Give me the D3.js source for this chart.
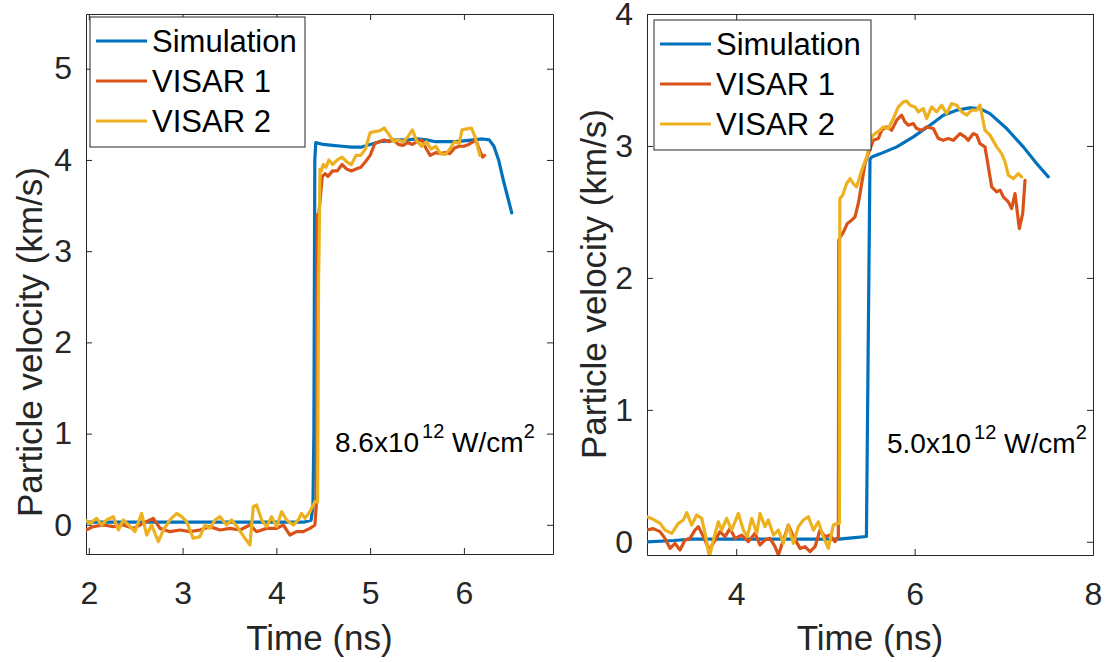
<!DOCTYPE html>
<html>
<head>
<meta charset="utf-8">
<script src="https://cdn.jsdelivr.net/npm/d3@7"></script>
<style>
  html, body { margin: 0; padding: 0; background: #fff; }
  svg { display: block; font-family: "Liberation Sans", Arial, Helvetica, sans-serif; }
</style>
</head>
<body>
<svg id="chart" width="1110" height="662"></svg>
<script>
// ---------------- DATA ----------------
const seriesNames = ["Simulation", "VISAR 1", "VISAR 2"];
const seriesColors = ["#0072BD", "#D95319", "#EDB120"];

// Left panel (8.6x10^12 W/cm^2)
const leftSimulation = [
  [1.97,0.03],[3.0,0.03],[4.0,0.03],[4.3,0.03],[4.37,0.05],[4.39,0.2],[4.40,1.0],[4.41,4.0],[4.42,4.19],
  [4.5,4.17],[4.6,4.16],[4.7,4.15],[4.8,4.14],[4.9,4.14],[5.0,4.17],[5.1,4.2],[5.2,4.21],[5.3,4.22],
  [5.4,4.22],[5.5,4.23],[5.6,4.22],[5.7,4.2],[5.8,4.2],[5.9,4.2],[6.0,4.21],[6.1,4.22],[6.2,4.23],
  [6.27,4.22],[6.32,4.15],[6.37,4.0],[6.42,3.78],[6.47,3.58],[6.51,3.42]
];
const leftVisar1 = [
  [1.97,-0.057],[2.048,-0.02],[2.155,-0.002],[2.261,-0.02],[2.368,-0.002],[2.475,-0.039],[2.581,0.016],
  [2.652,0.053],[2.688,0.071],[2.759,-0.039],[2.866,-0.075],[2.972,-0.057],[3.079,-0.075],[3.185,-0.057],
  [3.292,-0.02],[3.399,-0.057],[3.505,-0.039],[3.612,-0.057],[3.718,-0.002],[3.789,-0.075],[3.896,-0.039],
  [4.003,-0.039],[4.074,-0.002],[4.145,-0.112],[4.216,-0.075],[4.287,-0.075],[4.358,-0.039],[4.411,-0.002],
  [4.425,0.2],[4.435,3.4],[4.45,3.38],[4.47,3.6],[4.49,3.82],[4.52,3.85],[4.55,3.82],[4.6,3.88],[4.65,3.88],
  [4.7,3.95],[4.75,3.9],[4.8,3.88],[4.85,3.9],[4.9,3.92],[4.95,3.98],[5.0,4.05],[5.05,4.18],[5.1,4.2],
  [5.15,4.22],[5.2,4.2],[5.25,4.22],[5.3,4.17],[5.35,4.16],[5.4,4.19],[5.45,4.17],[5.5,4.2],[5.55,4.22],
  [5.6,4.12],[5.64,4.05],[5.7,4.08],[5.75,4.07],[5.8,4.08],[5.85,4.07],[5.9,4.13],[5.95,4.15],[6.0,4.15],
  [6.05,4.17],[6.1,4.2],[6.13,4.21],[6.17,4.1],[6.2,4.03],[6.22,4.05]
];
const leftVisar2 = [
  [1.97,0.045],[2.013,0.016],[2.084,0.071],[2.137,-0.002],[2.19,0.053],[2.261,0.089],[2.315,-0.057],
  [2.368,0.053],[2.439,-0.02],[2.492,-0.075],[2.563,0.126],[2.617,-0.112],[2.67,-0.002],[2.741,-0.185],
  [2.794,-0.057],[2.866,0.053],[2.937,0.126],[2.99,0.089],[3.043,0.034],[3.114,-0.148],[3.185,-0.13],
  [3.239,-0.002],[3.292,-0.039],[3.345,0.053],[3.399,0.089],[3.47,-0.002],[3.523,0.053],[3.594,-0.039],
  [3.665,-0.148],[3.718,-0.221],[3.754,0.199],[3.789,0.217],[3.843,0.053],[3.896,-0.02],[3.949,0.089],
  [4.003,-0.02],[4.056,0.144],[4.109,0.053],[4.18,-0.002],[4.234,0.053],[4.269,0.126],[4.305,0.071],
  [4.358,0.144],[4.411,0.254],[4.44,0.25],[4.45,2.7],[4.455,3.0],[4.465,3.9],[4.48,3.88],[4.5,3.95],
  [4.53,3.92],[4.56,4.0],[4.6,3.95],[4.65,4.0],[4.7,4.03],[4.75,3.98],[4.8,3.95],[4.85,4.05],[4.9,4.05],
  [4.95,4.12],[5.0,4.3],[5.05,4.31],[5.1,4.32],[5.15,4.35],[5.2,4.28],[5.25,4.2],[5.3,4.22],[5.35,4.2],
  [5.4,4.25],[5.45,4.33],[5.5,4.2],[5.55,4.15],[5.6,4.2],[5.65,4.12],[5.7,4.15],[5.75,4.07],[5.8,4.06],
  [5.85,4.12],[5.9,4.2],[5.95,4.18],[5.98,4.33],[6.03,4.34],[6.08,4.35],[6.12,4.25],[6.17,4.05]
];

// Right panel (5.0x10^12 W/cm^2)
const rightSimulation = [
  [3.0,0.0],[3.3,0.01],[3.5,0.02],[4.0,0.02],[4.5,0.02],[5.0,0.02],[5.15,0.02],[5.3,0.03],[5.46,0.04],
  [5.48,1.5],[5.5,2.9],[5.52,2.917],[5.612,2.94],[5.8,2.993],[5.986,3.069],[6.173,3.157],[6.322,3.233],
  [6.472,3.271],[6.621,3.288],[6.733,3.283],[6.845,3.245],[7.032,3.132],[7.219,2.993],[7.368,2.867],[7.499,2.766]
];
const rightVisar1 = [
  [3.0,0.09],[3.07,0.1],[3.146,0.077],[3.202,0.026],[3.258,-0.05],[3.314,-0.012],[3.37,-0.062],[3.426,0.013],
  [3.482,0.026],[3.538,0.089],[3.576,0.115],[3.632,0.039],[3.699,-0.062],[3.763,0.013],[3.819,0.077],
  [3.875,0.039],[3.931,0.102],[3.987,0.026],[4.062,0.051],[4.136,0.001],[4.211,0.064],[4.267,-0.024],
  [4.323,0.013],[4.379,0.026],[4.435,-0.037],[4.473,-0.1],[4.529,0.013],[4.585,0.127],[4.641,0.039],
  [4.716,-0.05],[4.771,-0.037],[4.828,-0.075],[4.884,-0.037],[4.94,0.089],[4.996,0.039],[5.052,0.051],
  [5.108,0.001],[5.145,0.039],[5.15,2.286],[5.168,2.31],[5.205,2.35],[5.243,2.41],[5.294,2.437],
  [5.332,2.463],[5.369,2.564],[5.407,2.715],[5.444,2.867],[5.481,2.942],[5.537,3.043],[5.593,3.056],
  [5.631,3.119],[5.687,3.144],[5.743,3.119],[5.799,3.195],[5.855,3.233],[5.892,3.182],[5.93,3.157],
  [5.986,3.17],[6.023,3.132],[6.079,3.119],[6.135,3.144],[6.21,3.132],[6.266,3.056],[6.322,3.043],
  [6.378,3.056],[6.434,3.043],[6.509,3.094],[6.565,3.069],[6.602,3.043],[6.658,3.094],[6.696,3.082],
  [6.733,3.018],[6.789,2.993],[6.827,2.841],[6.864,2.69],[6.92,2.652],[6.958,2.665],[6.995,2.614],
  [7.051,2.576],[7.088,2.526],[7.126,2.639],[7.174,2.374],[7.212,2.488],[7.238,2.74]
];
const rightVisar2 = [
  [3.0,0.19],[3.07,0.17],[3.146,0.14],[3.202,0.089],[3.277,0.064],[3.352,0.14],[3.408,0.165],[3.445,0.221],
  [3.501,0.127],[3.557,0.203],[3.613,0.178],[3.651,0.064],[3.699,-0.113],[3.744,0.013],[3.8,0.152],
  [3.837,0.089],[3.893,0.178],[3.949,0.089],[4.024,0.215],[4.08,0.089],[4.125,0.039],[4.174,0.178],
  [4.23,0.064],[4.267,0.215],[4.323,0.115],[4.36,0.165],[4.417,0.051],[4.473,0.089],[4.529,-0.012],
  [4.585,0.127],[4.641,-0.012],[4.697,0.115],[4.753,0.165],[4.809,0.19],[4.865,0.089],[4.921,0.152],
  [4.977,0.039],[5.033,-0.05],[5.089,0.127],[5.134,0.14],[5.157,0.14],[5.162,2.602],[5.194,2.627],
  [5.238,2.715],[5.276,2.753],[5.313,2.715],[5.35,2.69],[5.407,2.816],[5.463,2.917],[5.519,3.069],
  [5.556,3.094],[5.612,3.119],[5.65,3.144],[5.706,3.132],[5.762,3.208],[5.818,3.296],[5.874,3.334],
  [5.911,3.341],[5.949,3.309],[6.004,3.296],[6.042,3.258],[6.098,3.283],[6.135,3.208],[6.191,3.296],
  [6.247,3.258],[6.303,3.309],[6.359,3.245],[6.416,3.321],[6.472,3.309],[6.528,3.258],[6.584,3.233],
  [6.64,3.271],[6.696,3.271],[6.733,3.309],[6.789,3.119],[6.845,3.082],[6.92,2.993],[6.976,2.942],
  [7.014,2.88],[7.051,2.778],[7.107,2.753],[7.163,2.791],[7.2,2.766]
];

const leftXTicks = [2, 3, 4, 5, 6];
const leftYTicks = [0, 1, 2, 3, 4, 5];
const rightXTicks = [4, 6, 8];
const rightYTicks = [0, 1, 2, 3, 4];

const xLabel = "Time (ns)";
const yLabel = "Particle velocity (km/s)";
const leftNote = { mant: "8.6x10", exp: "12", unit: " W/cm", unitExp: "2" };
const rightNote = { mant: "5.0x10", exp: "12", unit: " W/cm", unitExp: "2" };

// ---------------- DRAW ----------------
const svg = d3.select("#chart");
const axisColor = "#262626";

const panels = [
  { id: "L", left: 86, right: 553, top: 14, bottom: 554, xDomain: [1.97, 6.95], yDomain: [-0.32, 5.6],
    xTicks: leftXTicks, yTicks: leftYTicks, series: [leftSimulation, leftVisar1, leftVisar2], note: leftNote,
    noteX: 335, noteY: 452, yLabelX: 30, yLabelY: 342, legend: { x: 90, y: 17, w: 215, h: 130 } },
  { id: "R", left: 647, right: 1093, top: 14, bottom: 555, xDomain: [3, 8], yDomain: [-0.1, 4],
    xTicks: rightXTicks, yTicks: rightYTicks, series: [rightSimulation, rightVisar1, rightVisar2], note: rightNote,
    noteX: 887, noteY: 453, yLabelX: 594, yLabelY: 284, legend: { x: 654, y: 20, w: 217, h: 130 } }
];

panels.forEach(p => {
  const x = d3.scaleLinear().domain(p.xDomain).range([p.left, p.right]);
  const y = d3.scaleLinear().domain(p.yDomain).range([p.bottom, p.top]);
  const g = svg.append("g");

  g.append("defs").append("clipPath").attr("id", "clip" + p.id)
    .append("rect").attr("x", p.left).attr("y", p.top)
    .attr("width", p.right - p.left).attr("height", p.bottom - p.top);

  // axes (MATLAB style: inward ticks, box)
  const tickLen = 6;
  const xb = g.append("g").attr("transform", `translate(0,${p.bottom})`)
    .call(d3.axisBottom(x).tickValues(p.xTicks).tickSizeInner(-tickLen).tickSizeOuter(0).tickPadding(27).tickFormat(d3.format("d")));
  const xt = g.append("g").attr("transform", `translate(0,${p.top})`)
    .call(d3.axisTop(x).tickValues(p.xTicks).tickSizeInner(-tickLen).tickSizeOuter(0).tickFormat(""));
  const yl = g.append("g").attr("transform", `translate(${p.left},0)`)
    .call(d3.axisLeft(y).tickValues(p.yTicks).tickSizeInner(-tickLen).tickSizeOuter(0).tickPadding(14).tickFormat(d3.format("d")));
  const yr = g.append("g").attr("transform", `translate(${p.right},0)`)
    .call(d3.axisRight(y).tickValues(p.yTicks).tickSizeInner(-tickLen).tickSizeOuter(0).tickFormat(""));
  [xb, xt, yl, yr].forEach(a => {
    a.select(".domain").attr("stroke", axisColor).attr("stroke-width", 1);
    a.selectAll(".tick line").attr("stroke", axisColor).attr("stroke-width", 1);
    a.selectAll(".tick text").attr("fill", axisColor).attr("font-size", 32)
      .attr("font-family", "'Liberation Sans', Arial, sans-serif");
  });
  xb.selectAll(".tick text").attr("dy", "0.71em");

  // lines
  const line = d3.line().x(d => x(d[0])).y(d => y(d[1]));
  const lg = g.append("g").attr("clip-path", `url(#clip${p.id})`);
  p.series.forEach((s, i) => {
    lg.append("path").datum(s).attr("d", line).attr("fill", "none")
      .attr("stroke", seriesColors[i]).attr("stroke-width", 3.2)
      .attr("stroke-linejoin", "round").attr("stroke-linecap", "round");
  });

  // axis labels
  g.append("text").attr("x", (p.left + p.right) / 2).attr("y", 650)
    .attr("text-anchor", "middle").attr("font-size", 35).attr("fill", axisColor).text(xLabel);
  g.append("text").attr("transform", `translate(${p.yLabelX},${p.yLabelY}) rotate(-90)`)
    .attr("text-anchor", "middle").attr("dy", "0.35em").attr("font-size", 35).attr("fill", axisColor).text(yLabel);

  // annotation
  const t = g.append("text").attr("x", p.noteX).attr("y", p.noteY).attr("font-size", 28).attr("fill", "#000");
  t.append("tspan").text(p.note.mant);
  t.append("tspan").attr("dx", 3).attr("dy", -14).attr("font-size", 20).text(p.note.exp);
  t.append("tspan").attr("dy", 14).text(p.note.unit);
  t.append("tspan").attr("dy", -14).attr("font-size", 20).text(p.note.unitExp);

  // legend
  const L = p.legend;
  const leg = g.append("g");
  leg.append("rect").attr("x", L.x).attr("y", L.y).attr("width", L.w).attr("height", L.h)
    .attr("fill", "#fff").attr("stroke", axisColor).attr("stroke-width", 1);
  seriesNames.forEach((name, i) => {
    const cy = L.y + 24 + i * 40;
    leg.append("line").attr("x1", L.x + 6).attr("x2", L.x + 57).attr("y1", cy).attr("y2", cy)
      .attr("stroke", seriesColors[i]).attr("stroke-width", 3.2);
    leg.append("text").attr("x", L.x + 62).attr("y", cy).attr("dy", "0.35em")
      .attr("font-size", 31).attr("fill", "#000").text(name);
  });
});
</script>
</body>
</html>
